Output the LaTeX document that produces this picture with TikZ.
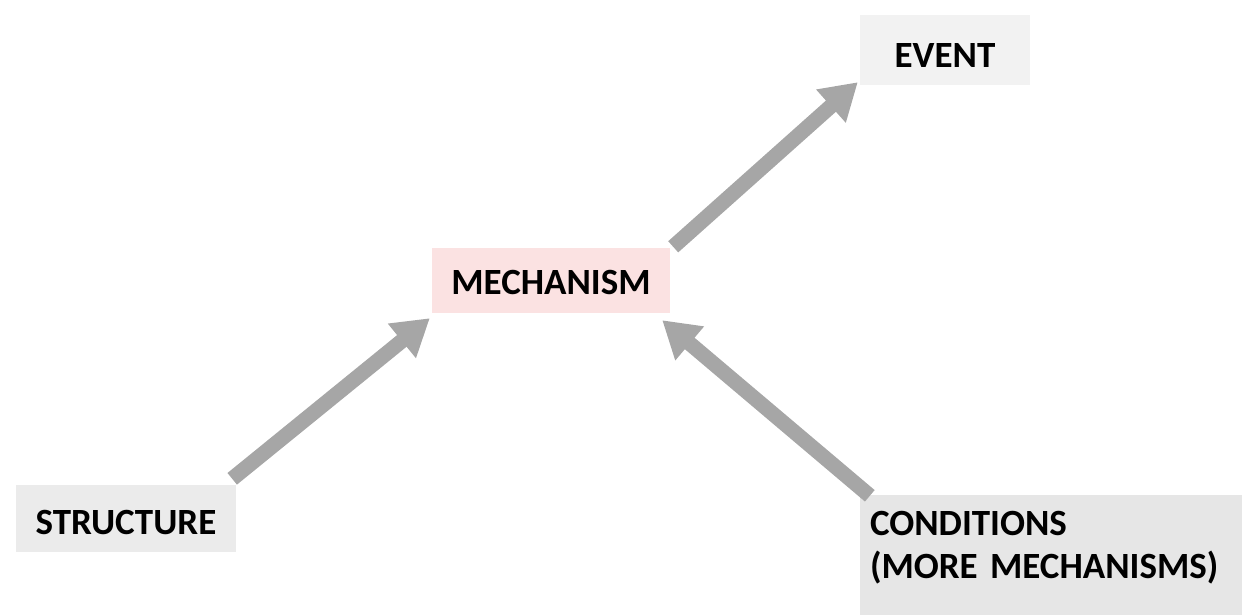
\documentclass[tikz,border=0pt]{standalone}
\usepackage{fontspec}
\setmainfont{Carlito}
\usetikzlibrary{arrows.meta}
\definecolor{boxgray}{HTML}{EBEBEB}
\definecolor{condgray}{HTML}{E6E6E6}
\definecolor{eventgray}{HTML}{F2F2F2}
\definecolor{mechpink}{HTML}{FBE2E2}
\definecolor{arrowgray}{HTML}{A6A6A6}
\tikzset{
  box/.style={rectangle, inner sep=0pt, font=\fontsize{37}{44}\selectfont\bfseries, text=black},
  fatarrow/.style={draw=arrowgray, line width=15pt, line cap=butt,
    -{Triangle[length=36pt,width=42pt]}}
}
\begin{document}
\begin{tikzpicture}[x=1pt,y=-1pt]
  \useasboundingbox (0,0) rectangle (1247,615);
  \node[box, fill=eventgray, minimum width=170pt, minimum height=70pt,
        text height=36pt, text depth=0pt] (event) at (945,50) {EVENT};
  \node[box, fill=mechpink, minimum width=238pt, minimum height=65pt,
        text height=27pt, text depth=0pt] (mech) at (551,280.5) {MECHANISM};
  \node[box, fill=boxgray, minimum width=220pt, minimum height=67pt,
        text height=32pt, text depth=0pt] (struct) at (126,518.5) {STRUCTURE};
  \node[box, fill=condgray, minimum width=382pt, minimum height=120pt,
        align=left, text width=362pt, inner xsep=10pt] (cond) at (1051,555)
        {\raisebox{7pt}[\height][\depth]{\begin{tabular}{@{}l@{}}CONDITIONS\\[-1pt](MORE MECHANISMS)\end{tabular}}};
  \draw[fatarrow] ([shift={(-4pt,6pt)}]struct.north east) -- ([shift={(-2pt,-5pt)}]mech.south west);
  \draw[fatarrow] ([shift={(10pt,-1pt)}]cond.north west) -- ([shift={(-8pt,-7pt)}]mech.south east);
  \draw[fatarrow] ([shift={(3pt,1pt)}]mech.north east) -- ([shift={(-2pt,3pt)}]event.south west);
\end{tikzpicture}
\end{document}
